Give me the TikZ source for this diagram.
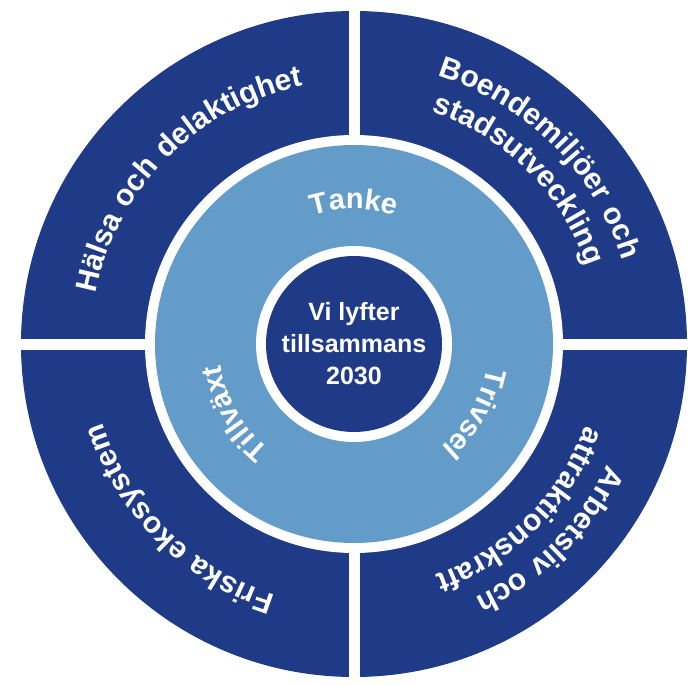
\documentclass[tikz,border=0pt]{standalone}
\usepackage{fontspec}
\setmainfont{Liberation Sans}
\newfontfamily\ringfont[LetterSpace=5]{Liberation Sans}
\usetikzlibrary{decorations.text}
\definecolor{planblue}{HTML}{1F3B87}
\definecolor{planlight}{HTML}{639BC9}
\tikzset{x=1pt, y=1pt,
goal/.style={text=white, align=center, font=\bfseries\fontsize{25}{32}\selectfont},
ringtext/.style={decorate, decoration={text along path, text align=center, text color=white,
    text={|\ringfont\bfseries\fontsize{30}{32}\selectfont|#1}}},
innertext/.style={decorate, decoration={text along path, text align=center, text color=white,
    text={|\ringfont\bfseries\fontsize{29}{31}\selectfont|#1}}},
}

\begin{document}
\begin{tikzpicture}
\useasboundingbox (-354,-341) rectangle (338,344);
    % outer ring in four quarters
    \fill[planblue] (0,0) circle[radius=333];
    \draw[white, line width=11] (-340,0) -- (340,0) (0,-340) -- (0,340);
    \fill[white] (0,0) circle[radius=209];
    % middle ring and centre
    \fill[planlight] (0,0) circle[radius=199];
    \fill[white] (0,0) circle[radius=98];
    \fill[planblue] (0,0) circle[radius=88];
    \node[goal] (goal) at (0,0) {Vi lyfter\\tillsammans\\2030};
    % quarter labels
    \path[ringtext={Hälsa och delaktighet}] (178:263) arc[start angle=178, end angle=92, radius=263];
    \path[ringtext={Boendemiljöer och}] (88:281) arc[start angle=88, end angle=2, radius=281];
    \path[ringtext={stadsutveckling}] (88:245) arc[start angle=88, end angle=2, radius=245];
    \path[ringtext={Arbetsliv och}] (-2:281) arc[start angle=-2, end angle=-88, radius=281];
    \path[ringtext={attraktionskraft}] (-2:245) arc[start angle=-2, end angle=-88, radius=245];
    \path[ringtext={Friska ekosystem}] (-92:263) arc[start angle=-92, end angle=-178, radius=263];
    % middle ring labels
    \path[innertext={Tanke}] (130:135) arc[start angle=130, end angle=50, radius=135];
    \path[innertext={Trivsel}] (10:135) arc[start angle=10, end angle=-70, radius=135];
    \path[innertext={Tillväxt}] (-110:135) arc[start angle=-110, end angle=-190, radius=135];
\end{tikzpicture}
\end{document}
